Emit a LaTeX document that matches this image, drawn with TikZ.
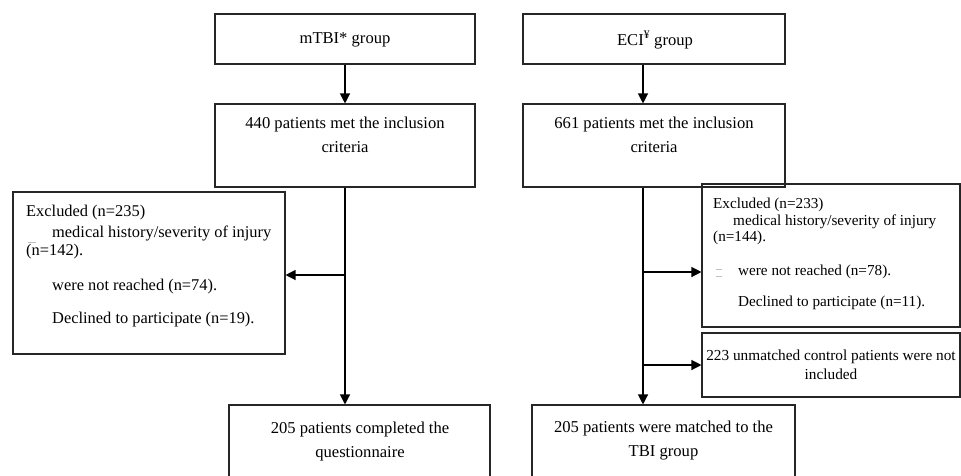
\documentclass[tikz,border=0pt]{standalone}
\usepackage{fontspec}
\setmainfont{Liberation Serif}
\usetikzlibrary{arrows.meta}
\begin{document}
\begin{tikzpicture}[x=1pt,y=-1pt,
  box/.style={draw=black!85,line width=1.1pt,inner sep=0pt,rectangle},
  arr/.style={line width=1.2pt,-{Triangle[length=10pt,width=10pt]}},
  mtxt/.style={font=\fontsize{16.6}{24}\selectfont,align=center,inner sep=0pt},
  ltxt/.style={font=\fontsize{16.4}{19}\selectfont,inner sep=0pt,anchor=west,text height=0.7em,text depth=0.22em},
  rtxt/.style={font=\fontsize{15.2}{17}\selectfont,inner sep=0pt,anchor=west,text height=0.7em,text depth=0.22em},
  faint/.style={draw=black!25,line width=0.8pt}]
\useasboundingbox (0,0) rectangle (961,475);
\clip (0,0) rectangle (961,475);
% boxes
\node[box,minimum width=260pt,minimum height=50pt] (mtbi) at (345,39) {};
\node[box,minimum width=262pt,minimum height=50pt] (eci) at (654,39) {};
\node[box,minimum width=260pt,minimum height=83pt] (b440) at (345,145.5) {};
\node[box,minimum width=262pt,minimum height=83pt] (b661) at (654,145.5) {};
\node[box,minimum width=272pt,minimum height=162pt] (exclL) at (149,273) {};
\node[box,minimum width=258pt,minimum height=143pt] (exclR) at (831,255.5) {};
\node[box,minimum width=258pt,minimum height=64pt] (b223) at (831,365) {};
\node[box,minimum width=261pt,minimum height=95pt] (b205L) at (359.5,452.5) {};
\node[box,minimum width=263pt,minimum height=95pt] (b205R) at (663.5,452.5) {};
% texts
\node[mtxt] (tmtbi) at (345,40) {mTBI* group};
\node[mtxt] (teci) at (655,40) {ECI\textsuperscript{¥} group};
\node[mtxt] (t440) at (345,135) {440 patients met the inclusion\\criteria};
\node[mtxt] (t661) at (654,135) {661 patients met the inclusion\\criteria};
\node[mtxt] (t205L) at (360,441) {205 patients completed the\\questionnaire};
\node[mtxt] (t205R) at (663.5,441) {205 patients were matched to the\\TBI group};
\node[mtxt,font=\fontsize{15.3}{18.5}\selectfont] (t223) at (831,365) {223 unmatched control patients were not\\included};
% left excluded
\node[ltxt] (l1) at (26,214) {Excluded (n=235)};
\node[ltxt] (l2) at (52,235) {medical history/severity of injury};
\node[ltxt] (l3) at (26,253) {(n=142).};
\node[ltxt] (l4) at (52,288) {were not reached (n=74).};
\node[ltxt] (l5) at (52,321) {Declined to participate (n=19).};
\draw[faint] (28,242) -- (36,242);
% right excluded
\node[rtxt] (r1) at (713,206) {Excluded (n=233)};
\node[rtxt] (r2) at (733,223) {medical history/severity of injury};
\node[rtxt] (r3) at (713,239) {(n=144).};
\node[rtxt] (r4) at (738,273) {were not reached (n=78).};
\node[rtxt] (r5) at (738,304) {Declined to participate (n=11).};
\draw[faint] (716,269) -- (722,269);
\draw[faint] (716,276) -- (722,276);
% connectors
\coordinate (rsp) at (643,0);
\coordinate (lbr) at (345,275);
\coordinate (rbr1) at (643,272);
\coordinate (rbr2) at (643,365);
\draw[arr] (mtbi.south) -- (b440.north);
\draw[arr] (eci.south -| rsp) -- (b661.north -| rsp);
\draw[arr] (b440.south) -- (b440.south |- b205L.north);
\draw[arr] (lbr) -- (exclL.east |- lbr);
\draw[arr] (b661.south -| rsp) -- (b205R.north -| rsp);
\draw[arr] (rbr1) -- (exclR.west |- rbr1);
\draw[arr] (rbr2) -- (b223.west);
\end{tikzpicture}
\end{document}
